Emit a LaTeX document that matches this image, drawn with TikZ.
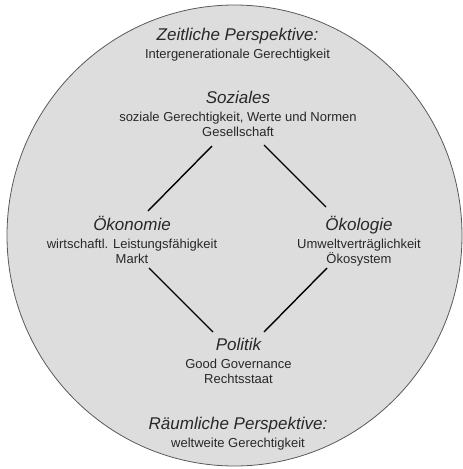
\documentclass[tikz,border=0pt]{standalone}
\usepackage{fontspec}
\setmainfont{Liberation Sans}
\definecolor{bg}{RGB}{221,221,221}
\definecolor{rim}{RGB}{90,90,90}
\definecolor{txt}{RGB}{40,40,40}
\newcommand{\headf}{\fontsize{17}{19}\selectfont\itshape\vphantom{Ö}}
\begin{document}
\begin{tikzpicture}[x=1pt,y=-1pt,
  label/.style={inner sep=0pt, anchor=north, text=txt, align=center,
    font=\fontsize{13}{14.5}\selectfont},
  link/.style={line width=1.4pt, black}]
\useasboundingbox (0,0) rectangle (463,469);
% the enclosing circle
\draw[fill=bg, draw=rim, line width=0.8pt] (234.5,235.5) ellipse (227.5 and 230.5);

% four dimensions and two perspectives
\node[label] (zeit) at (237.5,26.5) {{\headf Zeitliche Perspektive:}\\[3.5pt]Intergenerationale Gerechtigkeit};
\node[label] (soz)  at (238,89.5)   {{\headf Soziales}\\[3.5pt]soziale Gerechtigkeit, Werte und Normen\\Gesellschaft};
\node[label] (oek)  at (132,216.5)  {{\headf Ökonomie}\\[3.5pt]wirtschaftl. Leistungsfähigkeit\\Markt};
\node[label] (oeko) at (359,216.5)  {{\headf Ökologie}\\[3.5pt]Umweltverträglichkeit\\Ökosystem};
\node[label] (pol)  at (238.5,336.5){{\headf Politik}\\[3.5pt]Good Governance\\Rechtsstaat};
\node[label] (raum) at (238,415.5)  {{\headf Räumliche Perspektive:}\\[3.5pt]weltweite Gerechtigkeit};

% ends of the diamond's edges
\coordinate (sozL) at (212,146);
\coordinate (sozR) at (264,145);
\coordinate (oekT) at (148,211);
\coordinate (oekB) at (149,268);
\coordinate (oekoT) at (326,207);
\coordinate (oekoB) at (327,268);
\coordinate (polL) at (213,332);
\coordinate (polR) at (264,332);

\draw[link] (sozL) -- (oekT);
\draw[link] (sozR) -- (oekoT);
\draw[link] (oekB) -- (polL);
\draw[link] (oekoB) -- (polR);
\end{tikzpicture}
\end{document}
